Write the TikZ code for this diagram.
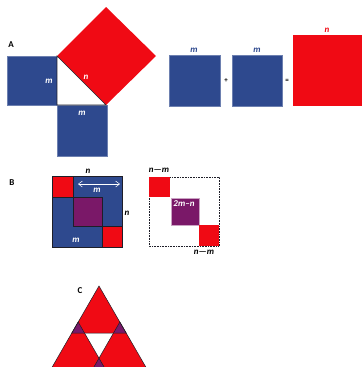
\documentclass[tikz,border=0pt]{standalone}
\usepackage{fontspec}
\setmainfont{Carlito}
\usetikzlibrary{arrows.meta}
\definecolor{myblue}{RGB}{46,73,142}
\definecolor{myred}{RGB}{240,10,20}
\definecolor{mypurple}{RGB}{122,24,104}
\definecolor{edge}{RGB}{30,30,40}
\tikzset{
  lab/.style={font=\fontsize{9}{9}\selectfont\bfseries\itshape, inner sep=0pt},
  wlab/.style={lab, text=white},
  part/.style={font=\fontsize{9}{9}\selectfont\bfseries, inner sep=0pt},
  bluesq/.style={fill=myblue, draw=myblue!70!white, line width=0.4pt},
  redsq/.style={fill=myred},
  purp/.style={fill=mypurple},
  outl/.style={draw=edge, line width=0.6pt},
}
\begin{document}
\begin{tikzpicture}[x=1pt,y=-1pt]
\useasboundingbox (0,0) rectangle (362,367);
\clip (0,0) rectangle (362,367);
% ---------- A ----------
\node[part] (lA) at (11,45) {A};
\fill[bluesq] (7,56) rectangle (57,105);
\fill[bluesq] (57,105) rectangle (107,156);
\fill[redsq] (57,56) -- (106,7) -- (156,56) -- (106,105) -- cycle;
\fill[white] (57,56) -- (57,105) -- (106,105) -- cycle;
\draw[outl] (57,56) -- (57,105) -- (106,105) -- cycle;
\node[wlab] (mA1) at (49,81) {m};
\node[wlab] (nA) at (86,77) {n};
\node[wlab] (mA2) at (82,113) {m};
% right side
\fill[bluesq] (169,55) rectangle (220,106);
\fill[bluesq] (232,55) rectangle (282,106);
\fill[redsq] (293,35) rectangle (362,106);
\node[lab, text=myblue] (m1) at (194,50) {m};
\node[lab, text=myblue] (m2) at (257,50) {m};
\node[lab, text=myred] (n1) at (327,30) {n};
\node[part, font=\fontsize{7}{7}\selectfont\bfseries] (plus) at (226,81) {+};
\node[part, font=\fontsize{7}{7}\selectfont\bfseries] (eq) at (287,81) {=};
% ---------- B ----------
\node[part] (lB) at (12,183) {B};
\fill[myblue] (52,176) rectangle (122,247);
\fill[redsq] (52,176) rectangle (73,197);
\fill[redsq] (102,226) rectangle (122,247);
\fill[purp] (73,197) rectangle (102,226);
\draw[outl] (73,176) rectangle (122,226);
\draw[outl] (52,197) rectangle (102,247);
\draw[outl] (52,176) rectangle (122,247);
\coordinate (aL) at (78,184);
\coordinate (aR) at (120,184);
\draw[white, line width=0.5pt, {Straight Barb[length=4pt,width=6pt]}-{Straight Barb[length=4pt,width=6pt]}] (aL) -- (aR);
\node[wlab] (mB1) at (97,190) {m};
\node[wlab] (mB2) at (76,240) {m};
\node[lab] (nB1) at (88,171) {n};
\node[lab] (nB2) at (127,213) {n};
% dashed square
\draw[edge, densely dotted, line width=0.6pt] (149,177) rectangle (219,246);
\fill[redsq] (149,177) rectangle (170,197);
\fill[purp, draw=mypurple!40!white, line width=0.4pt] (171,198) rectangle (199,225);
\fill[redsq] (199,225) rectangle (219,246);
\node[lab] (nm1) at (159,170) {n---m};
\node[wlab] (tmn) at (184,204) {2m--n};
\node[lab] (nm2) at (204,252) {n---m};
% ---------- C ----------
\node[part] (lC) at (80,291) {C};
\coordinate (T) at (99,286);
\coordinate (BL) at (51,369.1);
\coordinate (BR) at (147,369.1);
\coordinate (tL) at (71.85,333);
\coordinate (tR) at (126.15,333);
\coordinate (lT) at (78.15,322);
\coordinate (lR) at (105.3,369.1);
\coordinate (rT) at (119.85,322);
\coordinate (rL) at (92.7,369.1);
\fill[redsq] (T) -- (tL) -- (tR) -- cycle;
\fill[redsq] (BL) -- (lR) -- (lT) -- cycle;
\fill[redsq] (BR) -- (rL) -- (rT) -- cycle;
\begin{scope}
\clip (T) -- (tL) -- (tR) -- cycle;
\fill[purp] (BL) -- (lR) -- (lT) -- cycle;
\fill[purp] (BR) -- (rL) -- (rT) -- cycle;
\end{scope}
\begin{scope}
\clip (BL) -- (lR) -- (lT) -- cycle;
\fill[purp] (BR) -- (rL) -- (rT) -- cycle;
\end{scope}
\draw[outl, line width=0.5pt] (T) -- (tL) -- (tR) -- cycle;
\draw[outl, line width=0.5pt] (BL) -- (lR) -- (lT) -- cycle;
\draw[outl, line width=0.5pt] (BR) -- (rL) -- (rT) -- cycle;
\end{tikzpicture}
\end{document}
